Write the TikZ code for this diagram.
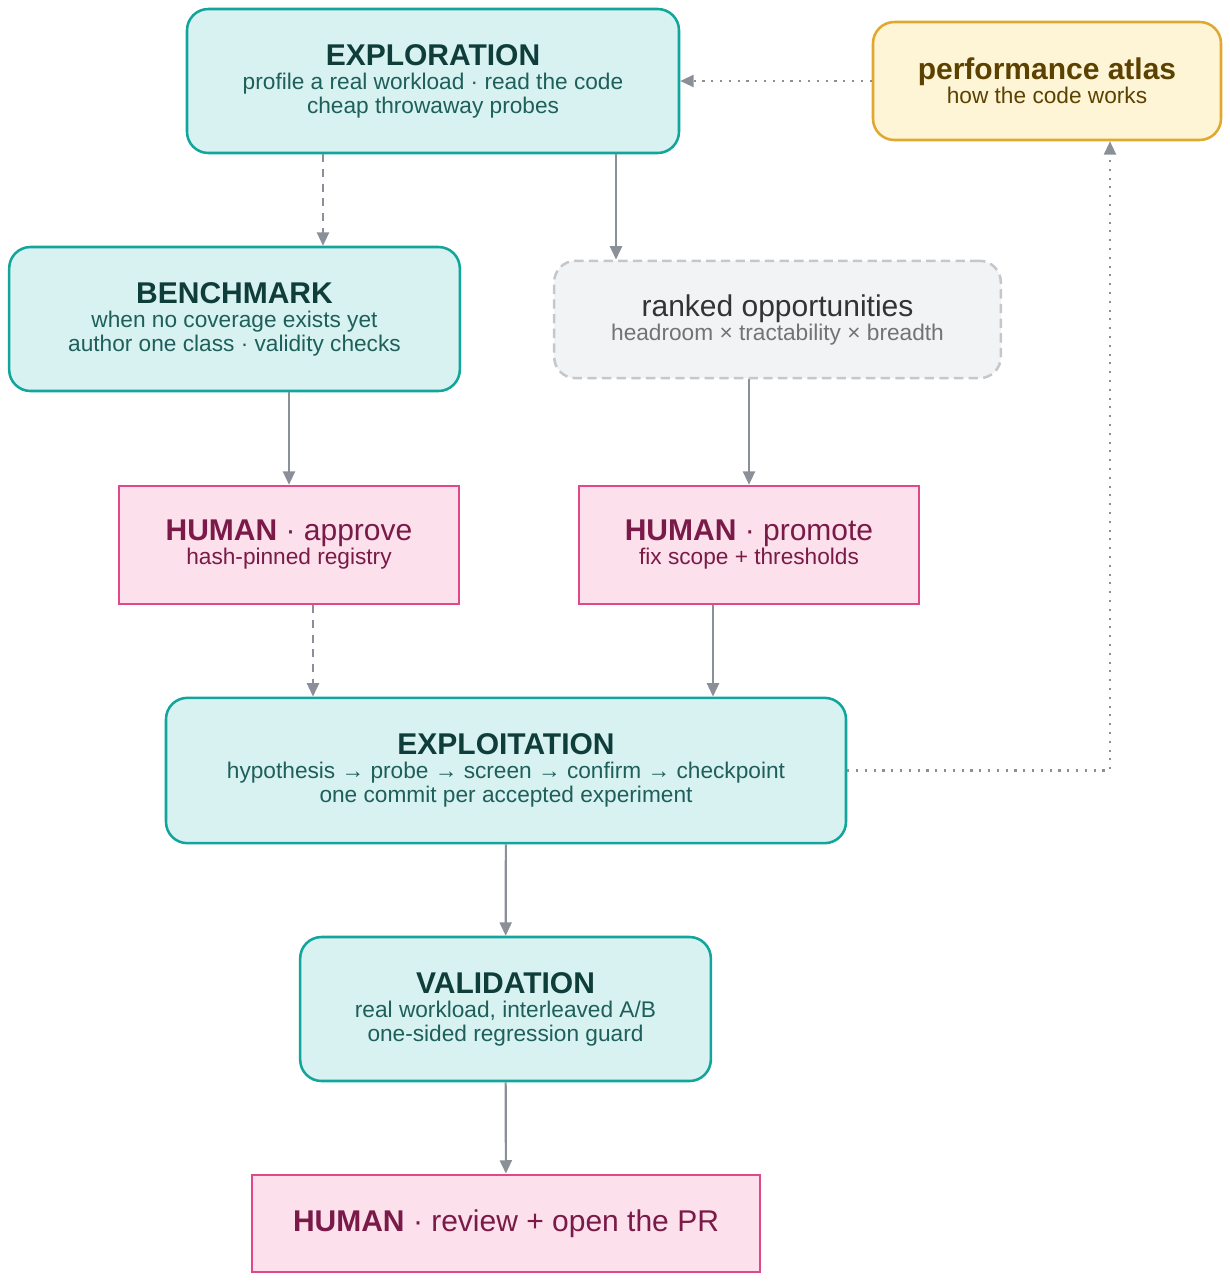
\documentclass[tikz,border=0pt]{standalone}
\usepackage{fontspec}
\setmainfont{Liberation Sans}
\usetikzlibrary{arrows.meta}
\definecolor{tealb}{HTML}{12A59C}
\definecolor{tealf}{HTML}{D8F2F2}
\definecolor{tealt}{HTML}{0F3D3A}
\definecolor{teals}{HTML}{1E5F5A}
\definecolor{pinkb}{HTML}{E0488A}
\definecolor{pinkf}{HTML}{FCE0EC}
\definecolor{pinkt}{HTML}{7A1A48}
\definecolor{yelb}{HTML}{E0A82E}
\definecolor{yelf}{HTML}{FEF4D6}
\definecolor{yelt}{HTML}{5C4200}
\definecolor{grayb}{HTML}{C4C7CC}
\definecolor{grayf}{HTML}{F2F3F5}
\definecolor{arr}{HTML}{8A8F98}
\newcommand{\tf}{\fontsize{22.5}{24}\selectfont\bfseries}
\newcommand{\sfz}{\fontsize{17}{18}\selectfont}
\begin{document}
\begin{tikzpicture}[x=0.75pt,y=-0.75pt,
  base/.style={align=center,inner sep=0pt,line width=1.9pt,font=\sfz},
  stage/.style={base,rounded corners=16pt,draw=tealb,fill=tealf,text=teals},
  human/.style={base,draw=pinkb,fill=pinkf,text=pinkt},
  atlas/.style={base,rounded corners=16pt,draw=yelb,fill=yelf,text=yelt},
  opp/.style={base,rounded corners=16pt,draw=grayb,fill=grayf,dash pattern=on 7pt off 4pt,text=black!55},
  e/.style={draw=arr,line width=1.6pt,-{Triangle[length=10pt,width=9pt]}},
  dsh/.style={e,dash pattern=on 6pt off 5pt},
  dot/.style={e,dash pattern=on 1.6pt off 5pt}]
\useasboundingbox (0,0) rectangle (1230,1282);
\node[stage,minimum width=369pt,minimum height=108pt] (expl) at (433,81)
  {{\tf\color{tealt}EXPLORATION}\\profile a real workload · read the code\\cheap throwaway probes};
\node[atlas,minimum width=261pt,minimum height=88.5pt] (atl) at (1047,81)
  {{\tf performance atlas}\\how the code works};
\node[stage,minimum width=338pt,minimum height=108pt] (bench) at (234.5,319)
  {{\tf\color{tealt}BENCHMARK}\\when no coverage exists yet\\author one class · validity checks};
\node[opp,minimum width=335pt,minimum height=88pt] (rank) at (777.5,319.5)
  {{\fontsize{22.5}{24}\selectfont\color{black!80}ranked opportunities}\\headroom × tractability × breadth};
\node[human,minimum width=255pt,minimum height=88.5pt] (appr) at (289,545)
  {{\fontsize{22.5}{24}\selectfont\textbf{HUMAN} · approve}\\hash-pinned registry};
\node[human,minimum width=255pt,minimum height=88.5pt] (prom) at (749,545)
  {{\fontsize{22.5}{24}\selectfont\textbf{HUMAN} · promote}\\fix scope + thresholds};
\node[stage,minimum width=510pt,minimum height=109pt] (exploit) at (506,770.5)
  {{\tf\color{tealt}EXPLOITATION}\\hypothesis → probe → screen → confirm → checkpoint\\one commit per accepted experiment};
\node[stage,minimum width=308pt,minimum height=108pt] (val) at (505.5,1009)
  {{\tf\color{tealt}VALIDATION}\\real workload, interleaved A/B\\one-sided regression guard};
\node[human,minimum width=381pt,minimum height=73pt,font=\fontsize{22.5}{24}\selectfont] (rev) at (506,1223.5)
  {\textbf{HUMAN} · review + open the PR};
\draw[dot] (atl.west) -- (expl.east);
\draw[dsh] (expl.south -| 323,0) -- (bench.north -| 323,0);
\draw[e] (expl.south -| 616,0) -- (rank.north -| 616,0);
\draw[e] (bench.south -| 289,0) -- (appr.north -| 289,0);
\draw[e] (rank.south -| 749,0) -- (prom.north -| 749,0);
\draw[dsh] (appr.south -| 313,0) -- (exploit.north -| 313,0);
\draw[e] (prom.south -| 713,0) -- (exploit.north -| 713,0);
\draw[dot] (exploit.east) -- (exploit.east -| 1110,0) -- (atl.south -| 1110,0);
\draw[e] (exploit) -- (val);
\draw[e] (val) -- (rev);
\end{tikzpicture}
\end{document}
